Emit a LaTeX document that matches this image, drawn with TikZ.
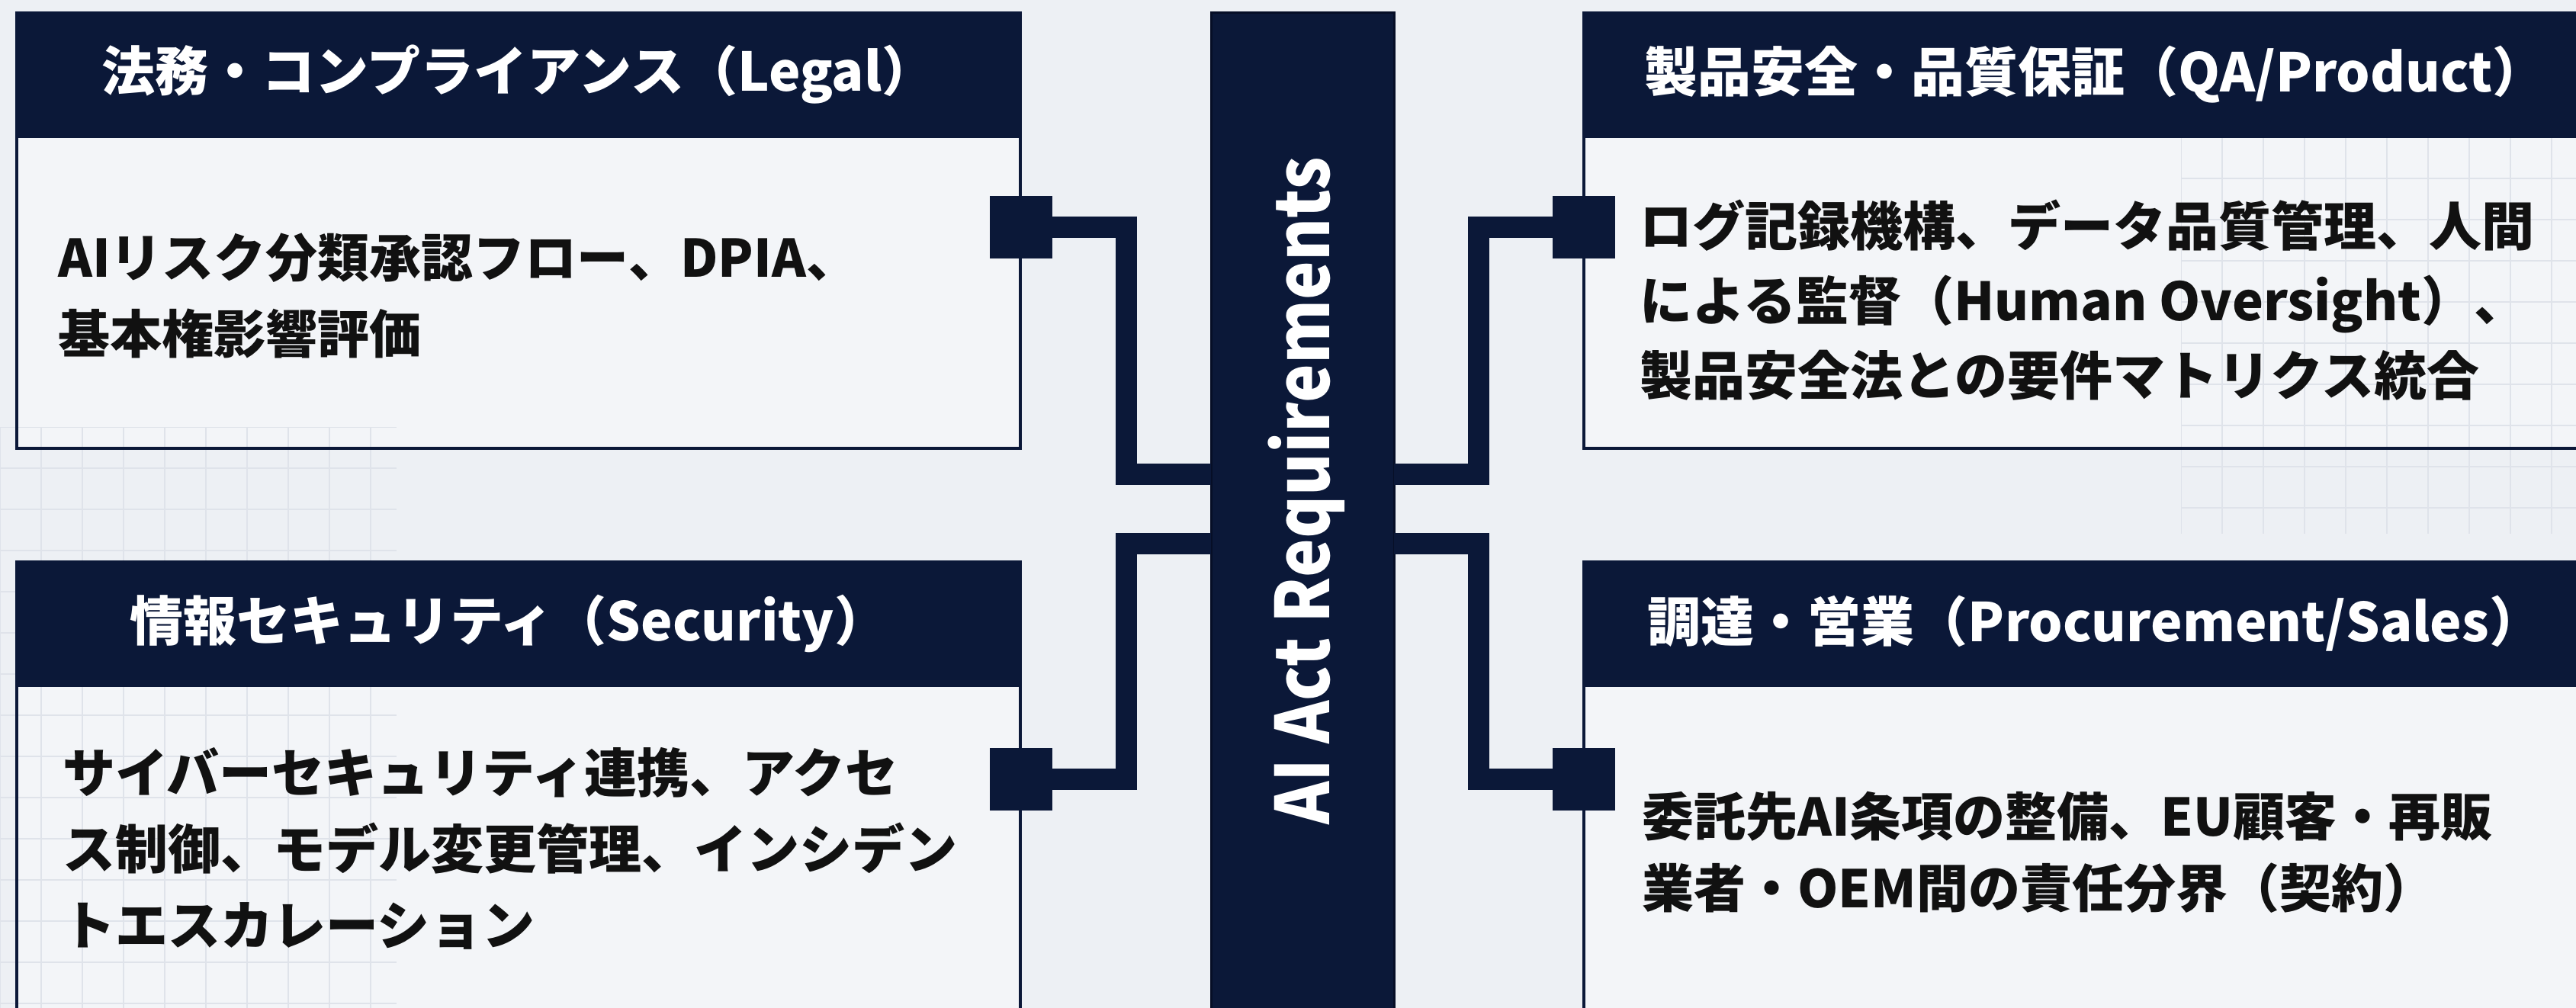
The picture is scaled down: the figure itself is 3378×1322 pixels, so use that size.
\documentclass[tikz,border=0pt]{standalone}
\usepackage{fontspec}
\setmainfont{Noto Sans CJK JP}
\definecolor{navy}{HTML}{0B1838}
\definecolor{navyedge}{HTML}{060E26}
\definecolor{bgc}{HTML}{EDF0F4}
\definecolor{boxc}{HTML}{F3F5F8}
\definecolor{gridc}{HTML}{DFE3EA}
\definecolor{ink}{HTML}{111111}
\begin{document}
\begin{tikzpicture}[x=1pt,y=-1pt,
  panel/.style={draw=navy, line width=4pt, fill=boxc, anchor=north west,
    minimum width=1316pt, inner sep=0pt, outer sep=0pt},
  header/.style={draw=navy, line width=4pt, fill=navy, anchor=north west,
    minimum width=1316pt, minimum height=162pt, inner sep=0pt, outer sep=0pt,
    text=white, font=\bfseries\fontsize{70}{80}\selectfont},
  body/.style={anchor=north west, align=left, inner sep=0pt, text=ink,
    font=\bfseries\fontsize{68}{100}\selectfont},
  port/.style={fill=navy, minimum size=82pt, inner sep=0pt, outer sep=0pt},
  wire/.style={draw=navy, line width=28pt, line join=miter, line cap=butt},
  gridline/.style={draw=gridc, line width=2pt}
]
\path[use as bounding box] (0,0) rectangle (3378,1322);
\clip (0,0) rectangle (3378,1322);
\fill[bgc] (0,0) rectangle (3378,1322);

% panels
\node[panel, minimum height=571pt] (legal) at (22,17) {};
\node[panel, minimum height=700pt] (sec) at (22,737) {};
\node[panel, minimum height=571pt, minimum width=1317pt] (qa) at (2077,17) {};
\node[panel, minimum height=700pt, minimum width=1317pt] (proc) at (2077,737) {};

% faint background grid
\begin{scope}
\clip (0,560) rectangle (520,1322);
\foreach \gx in {0,54,...,540} {\draw[gridline] (\gx,560) -- (\gx,1322);}
\foreach \gy in {560,614,...,1322} {\draw[gridline] (0,\gy) -- (520,\gy);}
\end{scope}
\begin{scope}
\clip (2860,180) rectangle (3378,700);
\foreach \gx in {2860,2914,...,3378} {\draw[gridline] (\gx,180) -- (\gx,700);}
\foreach \gy in {180,234,...,700} {\draw[gridline] (2860,\gy) -- (3378,\gy);}
\end{scope}
\draw[navy, line width=4pt] (legal.north west) rectangle (legal.south east);
\draw[navy, line width=4pt] (sec.north west) rectangle (sec.south east);
\draw[navy, line width=4pt] (qa.north west) rectangle (qa.south east);
\draw[navy, line width=4pt] (proc.north west) rectangle (proc.south east);

% headers
\node[header] (legalhead) at (22,17) {法務・コンプライアンス（Legal）};
\node[header] (sechead) at (22,737) {\hspace*{-26pt}情報セキュリティ（Security）};
\node[header, minimum width=1317pt] (qahead) at (2077,17) {\hspace*{24pt}製品安全・品質保証（QA/Product）};
\node[header, minimum width=1317pt] (prochead) at (2077,737) {\hspace*{24pt}調達・営業（Procurement/Sales）};

% body texts
\node[body] (legaltxt) at (76,306) {AIリスク分類承認フロー、DPIA、\\基本権影響評価};
\node[body, font=\bfseries\fontsize{69}{98}\selectfont] (qatxt) at (2150,262) {ログ記録機構、データ品質管理、人間\\による監督（Human Oversight）、\\製品安全法との要件マトリクス統合};
\node[body, font=\bfseries\fontsize{69}{100}\selectfont] (sectxt) at (82,980) {サイバーセキュリティ連携、アクセ\\ス制御、モデル変更管理、インシデン\\トエスカレーション};
\node[body, font=\bfseries\fontsize{68}{94}\selectfont] (proctxt) at (2153,1038) {委託先AI条項の整備、EU顧客・再販\\業者・OEM間の責任分界（契約）};

% central bar
\node[fill=navy, draw=navyedge, line width=3pt, anchor=north, minimum width=240pt,
  minimum height=1400pt, inner sep=0pt, outer sep=0pt] (bar) at (1708,17) {};

% ports
\node[port] (pLT) at (1339,298) {};
\node[port] (pLB) at (1339,1022) {};
\node[port] (pRT) at (2077,298) {};
\node[port] (pRB) at (2077,1022) {};

% junction coordinates
\coordinate (jLT) at (1477,622);
\coordinate (jLB) at (1477,713);
\coordinate (jRT) at (1939,622);
\coordinate (jRB) at (1939,713);

% connectors
\draw[wire] (pLT.center) -| (jLT) -- (jLT -| bar.west);
\draw[wire] (pLB.center) -| (jLB) -- (jLB -| bar.west);
\draw[wire] (pRT.center) -| (jRT) -- (jRT -| bar.east);
\draw[wire] (pRB.center) -| (jRB) -- (jRB -| bar.east);

% central label
\node[rotate=90, anchor=base, inner sep=0pt, text=white,
  font=\bfseries\fontsize{97}{97}\selectfont] (bartxt) at (1743,644) {\scalebox{0.88}[1]{AI Act Requirements}};
\end{tikzpicture}
\end{document}
